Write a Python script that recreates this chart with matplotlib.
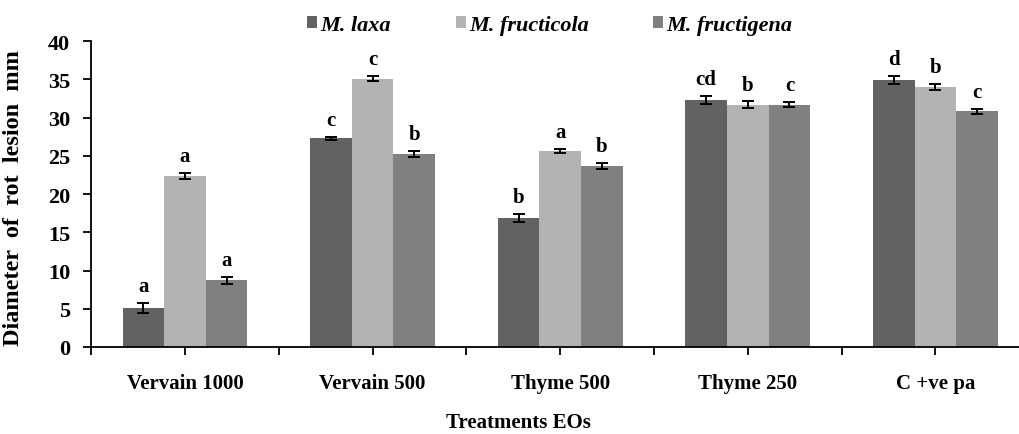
import matplotlib

matplotlib.use("Agg")
import matplotlib.pyplot as plt
import numpy as np

treatments = ["Vervain 1000", "Vervain 500", "Thyme 500", "Thyme 250", "C +ve pa"]
species = ["M. laxa", "M. fructicola", "M. fructigena"]

laxa = [5.1, 27.3, 16.9, 32.3, 34.9]
fructicola = [22.4, 35.1, 25.6, 31.7, 34.0]
fructigena = [8.7, 25.2, 23.7, 31.7, 30.8]

laxa_err = [0.7, 0.2, 0.5, 0.5, 0.5]
fructicola_err = [0.4, 0.3, 0.3, 0.4, 0.4]
fructigena_err = [0.5, 0.4, 0.4, 0.3, 0.3]

laxa_letters = ["a", "c", "b", "cd", "d"]
fructicola_letters = ["a", "c", "a", "b", "b"]
fructigena_letters = ["a", "b", "b", "c", "c"]

colors = ["#626262", "#b3b3b3", "#808080"]

plt.rcParams["font.family"] = "Liberation Serif"
plt.rcParams["font.weight"] = "bold"

fig = plt.figure(figsize=(10.19, 4.35), dpi=100)
ax = fig.add_axes([0.0895, 0.2, 0.9205, 0.7034])

x = np.arange(len(treatments))
width = 0.222
series = [
    (laxa, laxa_err, laxa_letters),
    (fructicola, fructicola_err, fructicola_letters),
    (fructigena, fructigena_err, fructigena_letters),
]
for i, (vals, errs, letters) in enumerate(series):
    pos = x + (i - 1) * width
    ax.bar(pos, vals, width, color=colors[i], label=species[i], zorder=2)
    ax.errorbar(pos, vals, yerr=errs, fmt="none", ecolor="black",
                elinewidth=1.4, capsize=4, capthick=1.4, zorder=3)
    for xp, v, e, t in zip(pos, vals, errs, letters):
        ax.annotate(t, (xp, v + e), xytext=(0, 5), textcoords="offset points",
                    ha="center", va="bottom", fontsize=15, fontweight="bold")

ax.set_xlim(-0.5, 4.5)
ax.set_ylim(0, 40)
ax.set_yticks(np.arange(0, 41, 5))
ax.set_xticks(x)
ax.set_xticklabels(treatments)
ax.set_xticks(np.arange(-0.5, 4.6, 1.0), minor=True)
ax.tick_params(axis="x", which="both", direction="out", length=6, width=1.3,
               pad=13, labelsize=15)
ax.tick_params(axis="y", direction="out", length=6, width=1.3, pad=9,
               labelsize=16)
for side in ["top", "right"]:
    ax.spines[side].set_visible(False)
for side in ["left", "bottom"]:
    ax.spines[side].set_linewidth(1.3)

ax.set_ylabel("Diameter  of  rot  lesion  mm", fontsize=17.5,
              fontweight="bold")
ax.yaxis.set_label_coords(-0.072, 0.49)
ax.set_xlabel("Treatments EOs", fontsize=15, fontweight="bold")
ax.xaxis.set_label_coords(0.455, -0.213)

leg = fig.legend(loc="center left", bbox_to_anchor=(0.293, 0.94), ncol=3,
                 frameon=False, handlelength=0.45, handleheight=0.45,
                 handletextpad=0.15, columnspacing=2.9, borderaxespad=0,
                 prop={"style": "italic", "weight": "bold", "size": 16})

fig.savefig("out.png", dpi=100)
